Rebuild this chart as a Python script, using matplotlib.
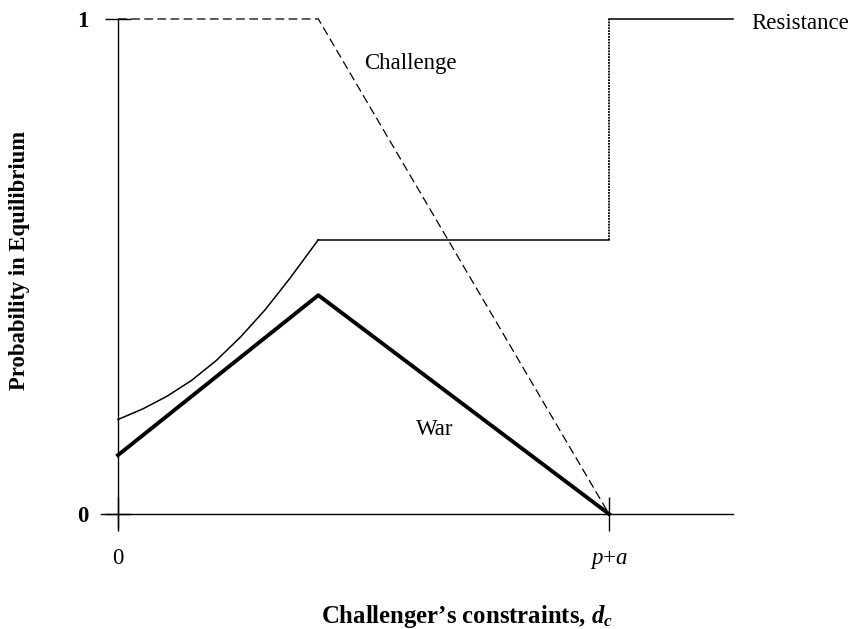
import matplotlib
matplotlib.use("Agg")
import matplotlib.pyplot as plt

plt.rcParams['font.family'] = ['Liberation Serif', 'DejaVu Serif']
plt.rcParams['mathtext.fontset'] = 'custom'
plt.rcParams['mathtext.rm'] = 'Liberation Serif'
plt.rcParams['mathtext.it'] = 'Liberation Serif:italic'
plt.rcParams['mathtext.bf'] = 'Liberation Serif:bold'
plt.rcParams['mathtext.bfit'] = 'Liberation Serif:italic:bold'

# ---- data (x in units where p+a = 1) ----
resist_curve_x = [0.0, 0.05, 0.10, 0.15, 0.20, 0.25, 0.30, 0.35, 0.408]
resist_curve_y = [0.191, 0.212, 0.238, 0.270, 0.310, 0.358, 0.413, 0.476, 0.554]
resist_flat_x = [0.408, 1.0]
resist_flat_y = [0.554, 0.554]
resist_step_x = [1.0, 1.0]
resist_step_y = [0.554, 1.0]
resist_top_x = [1.0, 1.2525]
resist_top_y = [1.0, 1.0]

war_x = [0.0, 0.408, 1.0]
war_y = [0.119, 0.442, 0.0]

challenge_x = [0.0, 0.408, 1.0]
challenge_y = [1.0, 1.0, 0.0]

xtick_vals = [0, 1]
xtick_labels = ['0', '$p$+$a$']
ytick_vals = [0, 1]
ytick_labels = ['0', '1']

W, H = 851, 629
fig = plt.figure(figsize=(W / 100, H / 100), dpi=100)
ax = fig.add_axes([0, 0, 1, 1])
ax.set_xlim(-118 / 491, (W - 118) / 491)
ax.set_ylim((514 - H) / 495, 514 / 495)

for s in ['top', 'right']:
    ax.spines[s].set_visible(False)
ax.spines['left'].set_position(('data', 0))
ax.spines['bottom'].set_position(('data', 0))
ax.spines['left'].set_bounds(-0.029, 1.0)
ax.spines['bottom'].set_bounds(-0.034, 1.2525)
for s in ['left', 'bottom']:
    ax.spines[s].set_linewidth(1.0)
ax.patch.set_visible(False)

ax.set_xticks(xtick_vals, xtick_labels)
ax.set_yticks(ytick_vals, ytick_labels)
ax.tick_params(axis='x', direction='inout', length=25, width=1.0, pad=12, labelsize=16.5)
ax.tick_params(axis='y', direction='inout', length=19, width=1.0, pad=12, labelsize=16.5)
for t in ax.get_yticklabels():
    t.set_fontweight('bold')

lw_thin = 1.1
ax.plot(resist_curve_x, resist_curve_y, color='black', lw=lw_thin, clip_on=False)
ax.plot(resist_flat_x, resist_flat_y, color='black', lw=lw_thin, clip_on=False)
ax.plot(resist_step_x, resist_step_y, color='black', lw=1.3, linestyle=(0, (1, 0.6)), clip_on=False)
ax.plot(resist_top_x, resist_top_y, color='black', lw=lw_thin, clip_on=False)
ax.plot(war_x, war_y, color='black', lw=2.8, clip_on=False)
ax.plot(challenge_x, challenge_y, color='black', lw=0.9, linestyle=(0, (7, 3.5)), clip_on=False)

ax.text(0.596, 0.898, 'Challenge', ha='center', va='baseline', fontsize=16.5)
ax.text(0.646, 0.1596, 'War', ha='center', va='baseline', fontsize=16.5)
ax.text(1.2906, 0.979, 'Resistance', ha='left', va='baseline', fontsize=16.5)

ax.text(0.710, -0.221, "Challenger\u2019s constraints, $\\mathbfit{d}_{\\mathbfit{c}}$",
        ha='center', va='baseline', fontsize=17.8, fontweight='bold')
ax.text(-0.1996, 0.513, 'Probability in Equilibrium', ha='center', va='center',
        rotation=90, fontsize=16.3, fontweight='bold')

fig.savefig('out.png', dpi=100)
